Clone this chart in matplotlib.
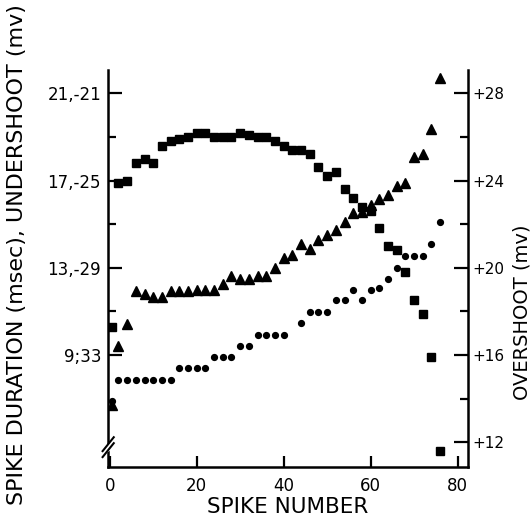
import matplotlib
matplotlib.use('Agg')
import matplotlib.pyplot as plt

# squares: overshoot (mv), right axis
spike_sq = [0.5] + list(range(2, 78, 2))
overshoot = [17.3, 23.9, 24.0, 24.8, 25.0, 24.8, 25.6, 25.8, 25.9, 26.0,
             26.2, 26.2, 26.0, 26.0, 26.0, 26.2, 26.1, 26.0, 26.0, 25.8,
             25.6, 25.4, 25.4, 25.2, 24.6, 24.2, 24.4, 23.6, 23.2, 22.8,
             22.6, 21.8, 21.0, 20.8, 19.8, 18.5, 17.9, 15.9, 11.6]

# triangles: spike duration (msec), left axis
spike_tri = [0.5] + list(range(2, 78, 2))
duration = [6.7, 9.4, 10.4, 11.95, 11.8, 11.65, 11.65, 11.95, 11.95, 11.95,
            12.0, 12.0, 12.0, 12.25, 12.6, 12.5, 12.5, 12.6, 12.6, 13.0,
            13.45, 13.6, 14.1, 13.85, 14.25, 14.5, 14.75, 15.1, 15.5, 15.55,
            15.9, 16.15, 16.35, 16.75, 16.9, 18.1, 18.2, 19.35, 21.7]

# circles: undershoot (mv), left axis (second label set)
spike_circ = [0.5] + list(range(2, 42, 2)) + list(range(44, 78, 2))
undershoot = [-35.1, -34.15, -34.15, -34.15, -34.15, -34.15, -34.15, -34.15,
              -33.6, -33.6, -33.6, -33.6, -33.1, -33.1, -33.1, -32.6, -32.6,
              -32.1, -32.1, -32.1, -32.1,
              -31.55, -31.05, -31.05, -31.05, -30.5, -30.5, -30.0, -30.5,
              -30.0, -29.95, -29.5, -29.0, -28.45, -28.45, -28.45, -27.9, -26.9]

x_ticks = [0, 20, 40, 60, 80]
left_ticks = [9, 13, 17, 21]
left_labels = ['9;33', '13,-29', '17,-25', '21,-21']
left_minor = [11, 15, 19]
right_ticks = [12, 16, 20, 24, 28]
right_labels = ['+12', '+16', '+20', '+24', '+28']
right_minor = [14, 18, 22, 26]

fig = plt.figure(figsize=(5.31, 5.22), dpi=100)
ax = fig.add_axes([108/531, 1 - 467/522, 360/531, 397/522])
ax2 = ax.twinx()

ax.set_xlim(-0.4, 82.4)
ax.set_ylim(3.86, 22.07)
ax2.set_ylim(3.86 + 7, 22.07 + 7)

ax.plot(spike_tri, duration, linestyle='none', marker='^', color='black', markersize=6.5)
ax.plot(spike_circ, [u + 42 for u in undershoot], linestyle='none', marker='o',
        color='black', markersize=4.2)
ax2.plot(spike_sq, overshoot, linestyle='none', marker='s', color='black', markersize=5.2)

for a in (ax, ax2):
    a.spines['top'].set_visible(False)
    for s in a.spines.values():
        s.set_linewidth(1.8)
ax.spines['right'].set_visible(False)
ax2.spines['left'].set_visible(False)
ax2.spines['bottom'].set_visible(False)

ax.set_xticks(x_ticks)
ax.set_xticklabels([str(t) for t in x_ticks])
ax.tick_params(axis='x', direction='in', length=8, width=1.6, labelsize=12, pad=7)

ax.set_yticks(left_ticks)
ax.set_yticklabels(left_labels)
ax.set_yticks(left_minor, minor=True)
ax.tick_params(axis='y', which='major', direction='in', length=10, width=1.6,
               labelsize=12, pad=5)
ax.tick_params(axis='y', which='minor', direction='in', length=6, width=1.6)

ax2.set_yticks(right_ticks)
ax2.set_yticklabels(right_labels)
ax2.set_yticks(right_minor, minor=True)
ax2.tick_params(axis='y', which='major', direction='in', length=10, width=1.6,
                labelsize=11, pad=3)
ax2.tick_params(axis='y', which='minor', direction='in', length=6, width=1.6)

# axis break on the left spine
gap = [[-0.03, 0.025], [0.03, 0.055], [0.03, 0.07], [-0.03, 0.04]]
ax.fill([p[0] for p in gap], [p[1] for p in gap], color='white',
        transform=ax.transAxes, clip_on=False, zorder=5)
for y0 in (0.025, 0.04):
    ax.plot([-0.015, 0.016], [y0, y0 + 0.035], color='black', lw=1.5,
            transform=ax.transAxes, clip_on=False, zorder=6)

fig.text(288/531, 1 - 507/522, 'SPIKE NUMBER', ha='center', va='center', fontsize=15.5)
fig.text(17/531, 1 - 255/522, 'SPIKE DURATION (msec), UNDERSHOOT (mv)', rotation=90,
         ha='center', va='center', fontsize=16)
fig.text(522/531, 1 - 312/522, 'OVERSHOOT (mv)', rotation=90,
         ha='center', va='center', fontsize=14)

fig.savefig('out.png', dpi=100)
